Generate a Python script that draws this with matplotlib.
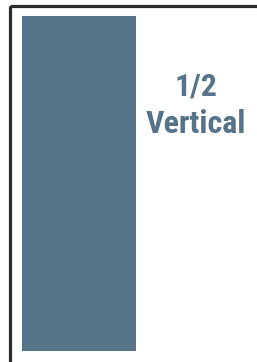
import matplotlib
matplotlib.use("Agg")
import matplotlib.pyplot as plt
from matplotlib.patches import Rectangle

# page layout (in pixels of the 257x362 thumbnail)
page_size = [257, 362]
ad_label = ["1/2", "Vertical"]
ad_box = [22, 16, 114, 335]  # x, y, width, height of the half-page column

blue = "#557389"

fig = plt.figure(figsize=(2.57, 3.62), dpi=100, facecolor="white")
ax = fig.add_axes([0, 0, 1, 1])
ax.set_xlim(0, page_size[0])
ax.set_ylim(page_size[1], 0)
ax.axis("off")

# page outline, runs off the right and bottom edges
ax.add_patch(Rectangle((9.5, 5.5), 260, 365, fill=False,
                       edgecolor="#2e2b2c", linewidth=2.3))

# the half page vertical ad
ax.add_patch(Rectangle((ad_box[0], ad_box[1]), ad_box[2], ad_box[3],
                       facecolor=blue, edgecolor="none"))

font = ["Roboto Condensed", "DejaVu Sans"]
ax.text(196, 86, ad_label[0], ha="center", va="center", color=blue,
        fontsize=23, fontweight="bold", fontstretch="condensed", family=font)
ax.text(196, 124, ad_label[1], ha="center", va="center", color=blue,
        fontsize=23, fontweight="bold", fontstretch="condensed", family=font)

fig.savefig("out.png", dpi=100, facecolor="white")
